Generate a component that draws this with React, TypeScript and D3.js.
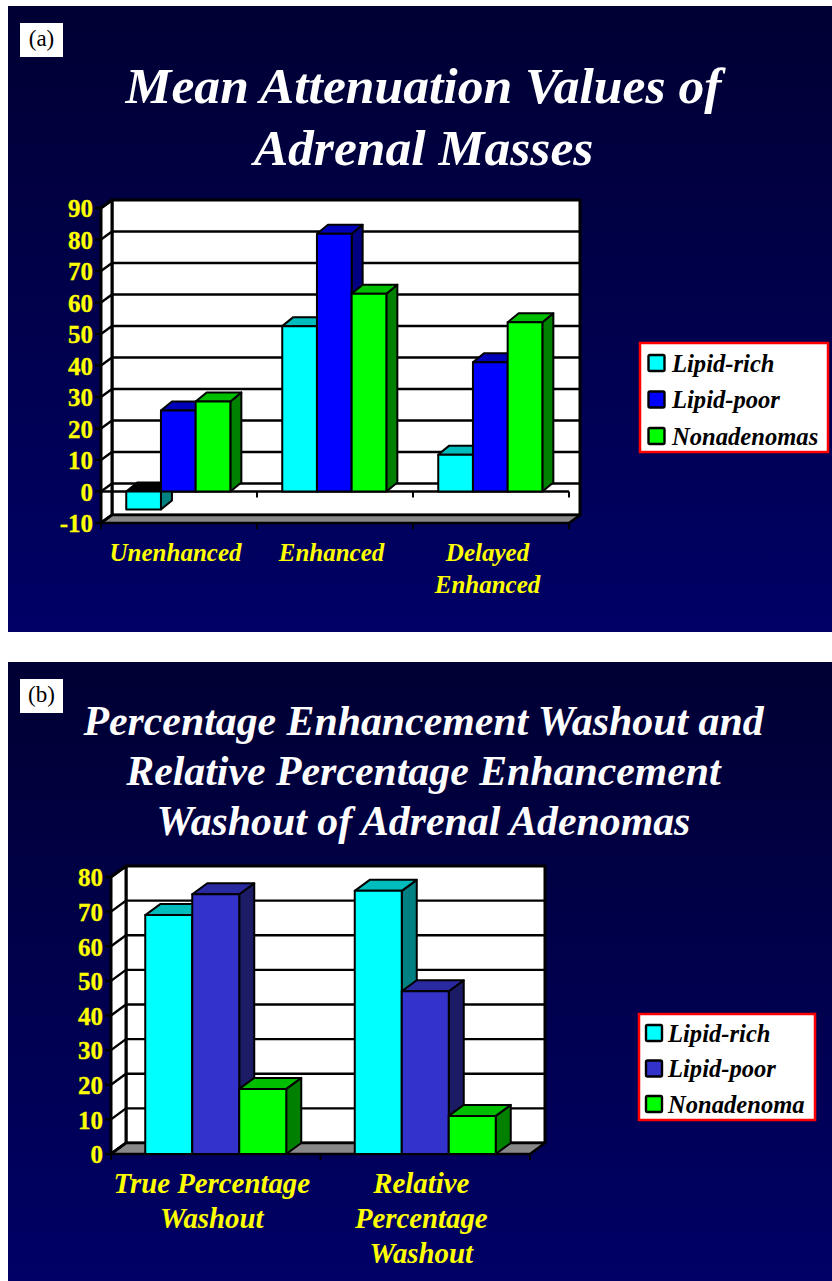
import React from "react";
import * as d3 from "d3";

const seriesA = ["Lipid-rich", "Lipid-poor", "Nonadenomas"];
const seriesB = ["Lipid-rich", "Lipid-poor", "Nonadenoma"];
const categoriesA = [["Unenhanced"], ["Enhanced"], ["Delayed", "Enhanced"]];
const categoriesB = [["True Percentage", "Washout"], ["Relative", "Percentage", "Washout"]];
const lipidRichA = [-5.7, 52.5, 11.7];
const lipidPoorA = [25.7, 81.8, 41];
const nonAdenomaA = [28.6, 62.8, 53.7];
const lipidRichB = [69, 76];
const lipidPoorB = [75, 47];
const nonAdenomaB = [18.8, 11];
const ticksA = [-10, 0, 10, 20, 30, 40, 50, 60, 70, 80, 90];
const ticksB = [0, 10, 20, 30, 40, 50, 60, 70, 80];

const SERIF = "'Liberation Serif', serif";
const YEL = "#ffff00";

type Colors = { front: string; top: string; side: string };
const colorsA: Colors[] = [
  { front: "#00ffff", top: "#00bdbd", side: "#008080" },
  { front: "#0000ff", top: "#0000bb", side: "#000080" },
  { front: "#00ff00", top: "#00bf00", side: "#008000" },
];
const colorsB: Colors[] = [
  { front: "#00ffff", top: "#00bdbd", side: "#008080" },
  { front: "#3333cc", top: "#2a2aa0", side: "#1c1c66" },
  { front: "#00ff00", top: "#00bf00", side: "#008000" },
];

type ChartProps = {
  id: string; tag: string; panelY: number; panelH: number;
  title: string[]; titleSize: number; titleY: number; titleStep: number;
  x0: number; x1: number; yTop: number; yBot: number; domain: [number, number];
  dx: number; dy: number; barDx: number; barDy: number; barW: number; barShift: number;
  ticks: number[]; tickSize: number; cats: string[][]; catSize: number; catY: number; catStep: number; catShift: number;
  values: number[][]; colors: Colors[]; names: string[];
  legend: { x: number; y: number; w: number; h: number; sx: number; sw: number; step: number; size: number; tx: number; y0: number };
};

function poly(p: number[][], fill: string, sw = 2) {
  return <polygon points={p.map((d) => d.join(",")).join(" ")} fill={fill} stroke="#000" strokeWidth={sw} strokeLinejoin="round" />;
}

function Chart(c: ChartProps) {
  const y = d3.scaleLinear().domain(c.domain).range([c.yBot, c.yTop]);
  const x = d3.scaleBand<number>().domain(c.cats.map((_, i) => i)).range([c.x0, c.x1]).paddingInner(0).paddingOuter(0);
  const sub = d3.scaleBand<number>().domain(c.names.map((_, i) => i)).range([0, c.barW * 3]);
  const base = y(Math.max(0, c.domain[0]));
  const bottom = c.yBot;
  const { dx, dy } = c;
  const boundaries = d3.range(c.cats.length + 1).map((i) => (i < c.cats.length ? (x(i) as number) : c.x1));
  return (
    <g>
      <defs>
        <linearGradient id={c.id} x1="0" y1="0" x2="0" y2="1">
          <stop offset="0" stopColor="#000033" />
          <stop offset="1" stopColor="#000066" />
        </linearGradient>
      </defs>
      <rect x={8} y={c.panelY} width={824} height={c.panelH} fill={`url(#${c.id})`} />
      <rect x={20} y={c.panelY + 17} width={43} height={34} fill="#fff" />
      <text x={41.5} y={c.panelY + 40} textAnchor="middle" fontFamily={SERIF} fontSize={23} fill="#000">{c.tag}</text>
      {c.title.map((t, i) => (
        <text key={i} x={423.5} y={c.titleY + i * c.titleStep} textAnchor="middle" fontFamily={SERIF} fontWeight="bold" fontStyle="italic" fontSize={c.titleSize} fill="#fff">{t}</text>
      ))}
      {/* walls */}
      {poly([[c.x0 + dx, c.yTop + dy], [c.x1 + dx, c.yTop + dy], [c.x1 + dx, bottom + dy], [c.x0 + dx, bottom + dy]], "#fff", 3)}
      {poly([[c.x0, c.yTop], [c.x0 + dx, c.yTop + dy], [c.x0 + dx, bottom + dy], [c.x0, bottom]], "#fff", 3)}
      {poly([[c.x0, bottom], [c.x0 + dx, bottom + dy], [c.x1 + dx, bottom + dy], [c.x1, bottom]], "#888888", 2.5)}
      {c.ticks.map((t) => (
        <g key={t}>
          {t !== c.domain[0] && t !== c.domain[1] && (
            <line x1={c.x0 + dx} x2={c.x1 + dx} y1={y(t) + dy} y2={y(t) + dy} stroke="#000" strokeWidth={2.4} />
          )}
          <line x1={c.x0 - 6} x2={c.x0} y1={y(t)} y2={y(t)} stroke="#000" strokeWidth={2.4} />
          <line x1={c.x0} x2={c.x0 + dx} y1={y(t)} y2={y(t) + dy} stroke="#000" strokeWidth={2.4} />
          <text x={c.x0 - 8} y={y(t) + c.tickSize * 0.33 + 1} textAnchor="end" fontFamily={SERIF} fontWeight="bold" fontSize={c.tickSize} fill={YEL} stroke={YEL} strokeWidth={0.3}>{t}</text>
        </g>
      ))}
      {c.domain[0] < 0 && (
        <g>
          <line x1={c.x0} x2={c.x1} y1={y(0)} y2={y(0)} stroke="#000" strokeWidth={2.4} />
          {boundaries.map((px) => (
            <line key={px} x1={px} x2={px} y1={y(0)} y2={y(0) + 6} stroke="#000" strokeWidth={2} />
          ))}
        </g>
      )}
      {boundaries.map((px) => (
        <line key={px} x1={px} x2={px} y1={bottom} y2={bottom + 6} stroke="#000" strokeWidth={2} />
      ))}
      {/* bars */}
      {c.cats.map((_, ci) =>
        c.names.map((_, si) => {
          const v = c.values[si][ci];
          const cx = (x(ci) as number) + x.bandwidth() / 2 - c.barW * 1.5 + c.barShift;
          const bx0 = cx + (sub(si) as number);
          const bx1 = bx0 + c.barW;
          const yv = y(v);
          const top = Math.min(yv, base);
          const low = Math.max(yv, base);
          const col = c.colors[si];
          return (
            <g key={`${ci}-${si}`}>
              {poly([[bx1, top], [bx1 + c.barDx, top + c.barDy], [bx1 + c.barDx, low + c.barDy], [bx1, low]], col.side)}
              {poly([[bx0, top], [bx0 + c.barDx, top + c.barDy], [bx1 + c.barDx, top + c.barDy], [bx1, top]], v < 0 ? "#000" : col.top)}
              {poly([[bx0, top], [bx1, top], [bx1, low], [bx0, low]], col.front)}
            </g>
          );
        })
      )}
      {c.cats.map((lines, ci) =>
        lines.map((l, li) => (
          <text key={`${ci}-${li}`} x={(x(ci) as number) + x.bandwidth() / 2 + c.catShift} y={c.catY + li * c.catStep} textAnchor="middle" fontFamily={SERIF} fontWeight="bold" fontStyle="italic" fontSize={c.catSize} fill={YEL}>{l}</text>
        ))
      )}
      {/* legend */}
      <rect x={c.legend.x} y={c.legend.y} width={c.legend.w} height={c.legend.h} fill="#fff" stroke="#ff0000" strokeWidth={2.5} />
      {c.names.map((n, i) => {
        const ly = c.legend.y0 + i * c.legend.step;
        return (
          <g key={n}>
            <rect x={c.legend.sx} y={ly - c.legend.sw / 2} width={c.legend.sw} height={c.legend.sw} rx={1.5} fill={c.colors[i].front} stroke="#000" strokeWidth={2.4} />
            <text x={c.legend.tx} y={ly + 8.5} fontFamily={SERIF} fontWeight="bold" fontStyle="italic" fontSize={c.legend.size} fill="#000">{n}</text>
          </g>
        );
      })}
    </g>
  );
}

export default function App() {
  return (
    <svg width={832} height={1281} style={{ position: "absolute", left: 0, top: 0, background: "#fff" }}>
      <Chart id="gA" tag="(a)" panelY={6} panelH={626} title={["Mean Attenuation Values of", "Adrenal Masses"]} titleSize={51.6} titleY={103} titleStep={62}
        x0={101} x1={569} yTop={208} yBot={523} domain={[-10, 90]} dx={11} dy={-8} barDx={11} barDy={-9} barW={34.7} barShift={-0.7}
        ticks={ticksA} tickSize={25} cats={categoriesA} catSize={25} catY={560.5} catStep={32} catShift={-3.5}
        values={[lipidRichA, lipidPoorA, nonAdenomaA]} colors={colorsA} names={seriesA}
        legend={{ x: 640, y: 343, w: 188, h: 109, sx: 648.5, sw: 16, step: 36.5, size: 24.6, tx: 672, y0: 363 }} />
      <Chart id="gB" tag="(b)" panelY={662} panelH={619} title={["Percentage Enhancement Washout and", "Relative Percentage Enhancement", "Washout of Adrenal Adenomas"]} titleSize={41.8} titleY={735} titleStep={50}
        x0={111} x1={530} yTop={877} yBot={1154} domain={[0, 80]} dx={15} dy={-11} barDx={15} barDy={-11} barW={47} barShift={0}
        ticks={ticksB} tickSize={25} cats={categoriesB} catSize={28.8} catY={1192.5} catStep={35} catShift={-4}
        values={[lipidRichB, lipidPoorB, nonAdenomaB]} colors={colorsB} names={seriesB}
        legend={{ x: 639, y: 1014, w: 176, h: 106, sx: 646, sw: 16, step: 35.5, size: 24.6, tx: 668, y0: 1033 }} />
    </svg>
  );
}
